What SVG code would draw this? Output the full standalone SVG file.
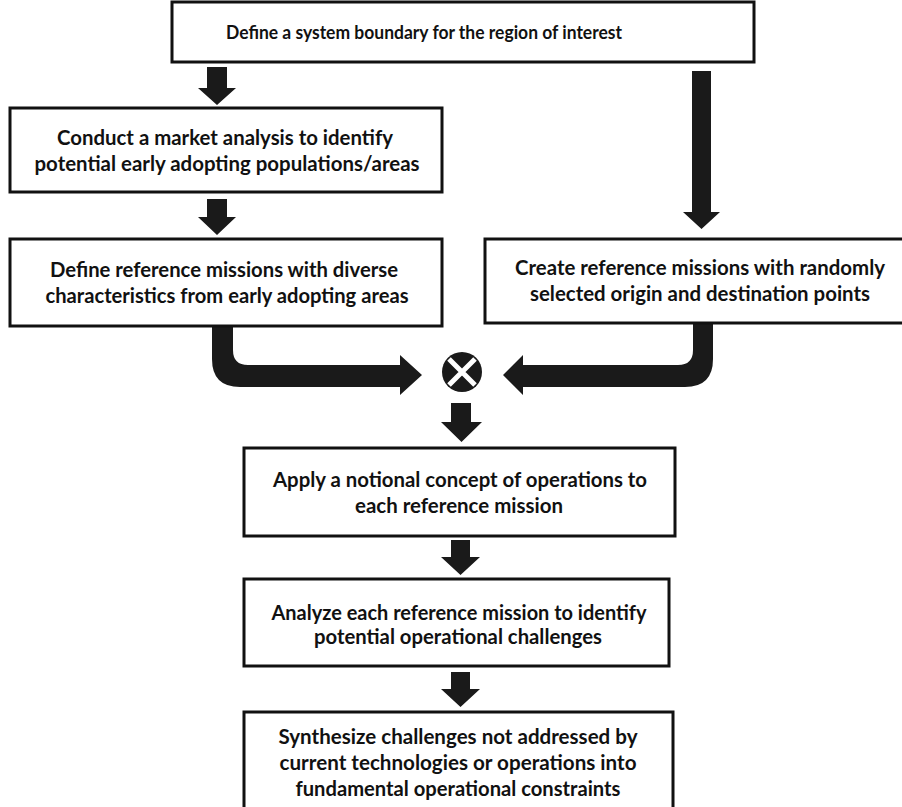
<svg xmlns="http://www.w3.org/2000/svg" width="902" height="807" viewBox="0 0 902 807">
<style>
.box{fill:#fff;stroke:#111;stroke-width:3}
.t{font-family:Lato,"Open Sans","DejaVu Sans",sans-serif;font-weight:700;font-size:20px;fill:#111;text-anchor:middle}
.ar{fill:#1a1a1a}
</style>
<rect width="902" height="807" fill="#fff"/>
<g id="connectors">
<path class="ar" d="M207,67 H227 V88 H236 L217,105 L198,88 H207 Z"/>
<path class="ar" d="M207,199 H227 V217 H236 L217,235 L198,217 H207 Z"/>
<path class="ar" d="M692,71 H711 V212 H720 L701.5,229 L683,212 H692 Z"/>
<path class="ar" d="M212,327 H233 V350 Q233,365 248,365 H400 V355 L422,375 L400,395 V387 H240 Q212,387 212,359 Z"/>
<path class="ar" d="M693,323 H713 V359 Q713,387 685,387 H523 V395 L503,375 L523,355 V365 H678 Q693,365 693,350 Z"/>
<path class="ar" d="M451,403 H471 V422 H482 L461.5,442 L441,422 H451 Z"/>
<path class="ar" d="M451,540 H470 V557 H480 L460.5,575 L441,557 H451 Z"/>
<path class="ar" d="M451,672 H470 V689 H480 L460.5,707 L441,689 H451 Z"/>
</g>
<g id="merge">
<circle cx="462" cy="372" r="20" fill="#1a1a1a"/>
<path d="M449,359 L475,385 M475,359 L449,385" stroke="#fff" stroke-width="5"/>
</g>
<g id="n1">
<rect class="box" x="172" y="2" width="582" height="60"/>
<text class="t" x="424" y="39" style="font-size:19px" textLength="396" lengthAdjust="spacingAndGlyphs">Define a system boundary for the region of interest</text>
</g>
<g id="n2">
<rect class="box" x="10" y="108" width="432" height="84"/>
<text class="t" x="225" y="145" textLength="336" lengthAdjust="spacingAndGlyphs">Conduct a market analysis to identify</text>
<text class="t" x="227" y="171" textLength="385" lengthAdjust="spacingAndGlyphs">potential early adopting populations/areas</text>
</g>
<g id="n3">
<rect class="box" x="10" y="239" width="432" height="87"/>
<text class="t" x="224" y="277" textLength="348" lengthAdjust="spacingAndGlyphs">Define reference missions with diverse</text>
<text class="t" x="227" y="303" textLength="363" lengthAdjust="spacingAndGlyphs">characteristics from early adopting areas</text>
</g>
<g id="n4">
<rect class="box" x="485" y="239" width="420" height="84"/>
<text class="t" x="700" y="275" textLength="370" lengthAdjust="spacingAndGlyphs">Create reference missions with randomly</text>
<text class="t" x="700" y="301" textLength="340" lengthAdjust="spacingAndGlyphs">selected origin and destination points</text>
</g>
<g id="n5">
<rect class="box" x="244" y="448" width="431" height="88"/>
<text class="t" x="460" y="487" textLength="374" lengthAdjust="spacingAndGlyphs">Apply a notional concept of operations to</text>
<text class="t" x="459" y="513" textLength="208" lengthAdjust="spacingAndGlyphs">each reference mission</text>
</g>
<g id="n6">
<rect class="box" x="244" y="579" width="425" height="87"/>
<text class="t" x="459" y="620" textLength="375" lengthAdjust="spacingAndGlyphs">Analyze each reference mission to identify</text>
<text class="t" x="458" y="644" textLength="288" lengthAdjust="spacingAndGlyphs">potential operational challenges</text>
</g>
<g id="n7">
<rect class="box" x="244" y="712" width="429" height="100"/>
<text class="t" x="458" y="744" textLength="359" lengthAdjust="spacingAndGlyphs">Synthesize challenges not addressed by</text>
<text class="t" x="458" y="770" textLength="357" lengthAdjust="spacingAndGlyphs">current technologies or operations into</text>
<text class="t" x="458" y="796" textLength="325" lengthAdjust="spacingAndGlyphs">fundamental operational constraints</text>
</g>
</svg>
